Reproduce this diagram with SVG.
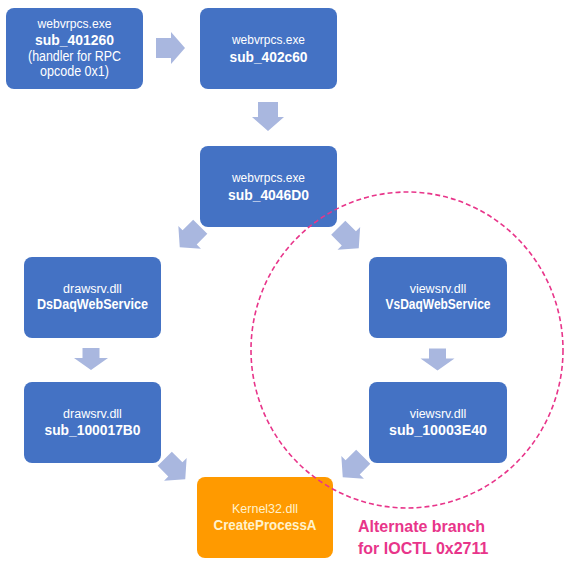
<svg xmlns="http://www.w3.org/2000/svg" width="575" height="565" viewBox="0 0 575 565">
<style>
.box{fill:#4472C4}
.kbox{fill:#FF9A00}
.t{font-family:"Liberation Sans",Arial,sans-serif;fill:#FFFFFF;text-anchor:middle}
.s{font-size:12.5px}
.b{font-size:15px;font-weight:bold}
.m{font-size:14px}
.k{fill:#FFF2CC}
.arr{fill:#A9B7DF}
.note{font-family:"Liberation Sans",Arial,sans-serif;font-size:16px;font-weight:bold;fill:#E8358A}
</style>
<defs>
<path id="ar" d="M-14.5,-10 L0.5,-10 L0.5,-16 L14.5,0 L0.5,16 L0.5,10 L-14.5,10 Z"/>
<path id="ars" d="M-11,-8.5 L-1,-8.5 L-1,-17 L11,0 L-1,17 L-1,8.5 L-11,8.5 Z"/>
</defs>
<rect width="575" height="565" fill="#FFFFFF"/>
<g id="connectors" class="arr">
<use href="#ar" transform="translate(170.5,48)"/>
<use href="#ar" transform="translate(268,116.5) rotate(90)"/>
<use href="#ar" transform="translate(190,237) rotate(135)"/>
<use href="#ar" transform="translate(348.5,238) rotate(45)"/>
<use href="#ars" transform="translate(91,359) rotate(90)"/>
<use href="#ars" transform="translate(437.5,359.5) rotate(90)"/>
<use href="#ar" transform="translate(175,469) rotate(45)"/>
<use href="#ar" transform="translate(353,467) rotate(135)"/>
</g>
<g id="n1">
<rect class="box" x="6" y="8" width="137" height="81" rx="8"/>
<text class="t s" x="74.5" y="28" textLength="74" lengthAdjust="spacingAndGlyphs">webvrpcs.exe</text>
<text class="t b" x="74.5" y="45" textLength="79" lengthAdjust="spacingAndGlyphs">sub_401260</text>
<text class="t m" x="74.5" y="61" textLength="93" lengthAdjust="spacingAndGlyphs">(handler for RPC</text>
<text class="t m" x="74.5" y="76" textLength="69" lengthAdjust="spacingAndGlyphs">opcode 0x1)</text>
</g>
<g id="n2">
<rect class="box" x="200" y="8" width="137" height="81" rx="8"/>
<text class="t s" x="268.5" y="44" textLength="73" lengthAdjust="spacingAndGlyphs">webvrpcs.exe</text>
<text class="t b" x="268.5" y="62" textLength="78" lengthAdjust="spacingAndGlyphs">sub_402c60</text>
</g>
<g id="n3">
<rect class="box" x="200" y="146" width="137" height="81" rx="8"/>
<text class="t s" x="268.5" y="182" textLength="73" lengthAdjust="spacingAndGlyphs">webvrpcs.exe</text>
<text class="t b" x="268.5" y="200" textLength="81" lengthAdjust="spacingAndGlyphs">sub_4046D0</text>
</g>
<g id="n4">
<rect class="box" x="24" y="257" width="137" height="81" rx="8"/>
<text class="t s" x="92.5" y="293">drawsrv.dll</text>
<text class="t b" x="92.5" y="309" textLength="111" lengthAdjust="spacingAndGlyphs">DsDaqWebService</text>
</g>
<g id="n5">
<rect class="box" x="24" y="382" width="137" height="81" rx="8"/>
<text class="t s" x="92.5" y="418">drawsrv.dll</text>
<text class="t b" x="92.5" y="435" textLength="96" lengthAdjust="spacingAndGlyphs">sub_100017B0</text>
</g>
<g id="n6">
<rect class="box" x="369" y="257" width="138" height="81" rx="8"/>
<text class="t s" x="438" y="293">viewsrv.dll</text>
<text class="t b" x="438" y="309" textLength="105" lengthAdjust="spacingAndGlyphs">VsDaqWebService</text>
</g>
<g id="n7">
<rect class="box" x="369" y="382" width="138" height="81" rx="8"/>
<text class="t s" x="438" y="418">viewsrv.dll</text>
<text class="t b" x="438" y="435" textLength="98" lengthAdjust="spacingAndGlyphs">sub_10003E40</text>
</g>
<g id="n8">
<rect class="kbox" x="197" y="477" width="136" height="81" rx="8"/>
<text class="t s k" x="265" y="513">Kernel32.dll</text>
<text class="t b k" x="265" y="530" textLength="103" lengthAdjust="spacingAndGlyphs">CreateProcessA</text>
</g>
<g id="alt">
<ellipse cx="407" cy="350" rx="156" ry="158" fill="none" stroke="#E8358A" stroke-width="1.6" stroke-dasharray="5,3"/>
<text class="note" x="358" y="532">Alternate branch</text>
<text class="note" x="358" y="554">for IOCTL 0x2711</text>
</g>
</svg>
